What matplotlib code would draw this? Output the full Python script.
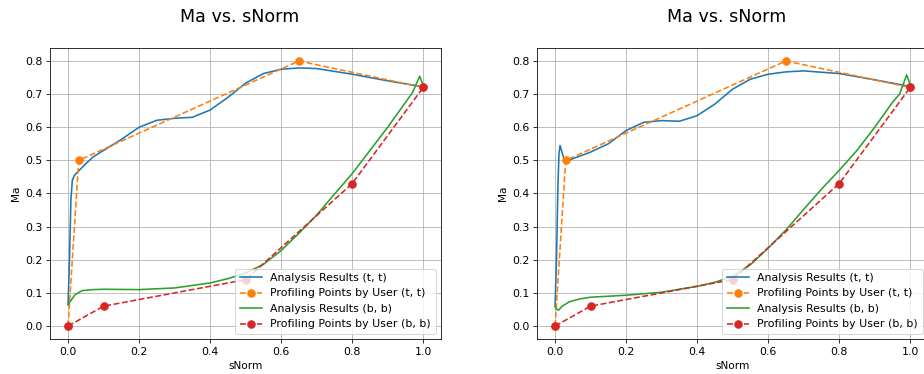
import numpy as np
import matplotlib
matplotlib.use("Agg")
import matplotlib.pyplot as plt

# user profiling points (same for both panels)
user_tt_s = [0.0, 0.03, 0.65, 1.0]
user_tt_ma = [0.0, 0.5, 0.8, 0.72]
user_bb_s = [0.0, 0.1, 0.5, 0.8, 1.0]
user_bb_ma = [0.0, 0.06, 0.14, 0.43, 0.72]

# left panel analysis results
left_tt_s = [0.0, 0.004, 0.008, 0.012, 0.018, 0.03, 0.05, 0.07, 0.1, 0.15, 0.2, 0.25,
             0.3, 0.35, 0.4, 0.45, 0.5, 0.55, 0.6, 0.65, 0.7, 0.8, 0.9, 1.0]
left_tt_ma = [0.065, 0.2, 0.38, 0.44, 0.455, 0.468, 0.49, 0.51, 0.53, 0.563, 0.6, 0.621,
              0.627, 0.63, 0.652, 0.69, 0.733, 0.762, 0.775, 0.779, 0.777, 0.76, 0.74, 0.722]
left_bb_s = [0.0, 0.01, 0.02, 0.04, 0.07, 0.1, 0.2, 0.3, 0.4, 0.45, 0.5, 0.55, 0.6,
             0.65, 0.7, 0.75, 0.8, 0.85, 0.9, 0.95, 0.97, 0.99, 1.0]
left_bb_ma = [0.065, 0.08, 0.095, 0.107, 0.11, 0.111, 0.11, 0.115, 0.13, 0.143, 0.16,
              0.186, 0.228, 0.28, 0.335, 0.398, 0.46, 0.53, 0.6, 0.675, 0.705, 0.754, 0.725]

# right panel analysis results
right_tt_s = [0.0, 0.004, 0.008, 0.011, 0.014, 0.018, 0.025, 0.035, 0.05, 0.1, 0.15,
              0.2, 0.25, 0.3, 0.35, 0.4, 0.45, 0.5, 0.55, 0.6, 0.65, 0.7, 0.8, 0.9, 1.0]
right_tt_ma = [0.06, 0.2, 0.42, 0.52, 0.545, 0.53, 0.505, 0.498, 0.505, 0.525, 0.55,
               0.59, 0.615, 0.62, 0.618, 0.635, 0.67, 0.715, 0.745, 0.76, 0.767, 0.77,
               0.762, 0.743, 0.723]
right_bb_s = [0.0, 0.005, 0.01, 0.02, 0.04, 0.07, 0.1, 0.2, 0.3, 0.4, 0.45, 0.5, 0.55,
              0.6, 0.65, 0.7, 0.75, 0.8, 0.85, 0.9, 0.95, 0.97, 0.99, 1.0]
right_bb_ma = [0.06, 0.05, 0.048, 0.06, 0.073, 0.082, 0.087, 0.093, 0.102, 0.12, 0.132,
               0.15, 0.185, 0.235, 0.29, 0.352, 0.413, 0.47, 0.53, 0.6, 0.675, 0.7,
               0.758, 0.728]

W, H = 924, 374
fig = plt.figure(figsize=(W / 72, H / 72), dpi=72)

panels = [
    (50.3, 239.5, left_tt_s, left_tt_ma, left_bb_s, left_bb_ma),
    (537.3, 727.0, right_tt_s, right_tt_ma, right_bb_s, right_bb_ma),
]

for x0, title_x, tt_s, tt_ma, bb_s, bb_ma in panels:
    ax = fig.add_axes([x0 / W, (H - 339.3) / H, 390.7 / W, 291.6 / H])
    ax.plot(tt_s, tt_ma, color='C0', lw=1.6, label='Analysis Results (t, t)')
    ax.plot(user_tt_s, user_tt_ma, 'o--', color='C1', lw=1.6, ms=7.5,
            label='Profiling Points by User (t, t)')
    ax.plot(bb_s, bb_ma, color='C2', lw=1.6, label='Analysis Results (b, b)')
    ax.plot(user_bb_s, user_bb_ma, 'o--', color='C3', lw=1.6, ms=7.5,
            label='Profiling Points by User (b, b)')
    ax.set_xlim(-0.05, 1.05)
    ax.set_ylim(-0.04, 0.84)
    ax.set_xticks([0.0, 0.2, 0.4, 0.6, 0.8, 1.0])
    ax.set_yticks([0.0, 0.1, 0.2, 0.3, 0.4, 0.5, 0.6, 0.7, 0.8])
    ax.tick_params(labelsize=11, length=4)
    ax.set_xlabel('sNorm', fontsize=10.5)
    ax.set_ylabel('Ma', fontsize=10.5)
    ax.grid(True)
    ax.legend(loc='lower right', fontsize=11)
    fig.text(title_x / W, 1 - 17 / H, 'Ma vs. sNorm', ha='center', va='center',
             fontsize=17.5)

fig.savefig('out.png', dpi=72)
